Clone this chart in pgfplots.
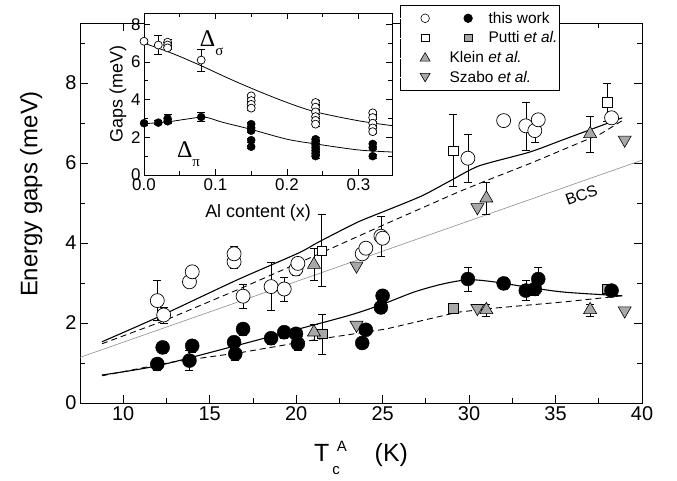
\documentclass[border=0pt]{standalone}
\usepackage{pgfplots}
\pgfplotsset{compat=1.18}
\usepackage{fontspec}
\setmainfont{Liberation Sans}
\newfontfamily\grk{Liberation Serif}
\definecolor{tri}{gray}{0.66}
\pgfplotsset{
  ebar/.style={error bars/.cd, y dir=both, y explicit,
     error bar style={line width=0.5pt,black},
     error mark options={rotate=90,mark size=4bp,line width=0.5pt,black}},
  opn/.style={only marks, mark=*, mark size=#1, mark options={draw=black,fill=white,line width=0.7pt}, ebar},
  fil/.style={only marks, mark=*, mark size=#1, mark options={draw=black,fill=black}, ebar},
}
\begin{document}
\begin{tikzpicture}
\path[use as bounding box] (-80bp,-78bp) rectangle (597bp,403bp);
\begin{axis}[
  at={(0bp,0bp)}, anchor=south west,
  scale only axis, width=562bp, height=380bp,
  xmin=7.5, xmax=40, ymin=0, ymax=9.5,
  xtick={10,15,...,40}, ytick={0,2,4,6,8},
  minor xtick={12.5,17.5,...,37.5}, minor ytick={1,3,5,7,9},
  tick align=inside, xtick pos=both, ytick pos=both,
  major tick length=8bp, minor tick length=5bp,
  every tick/.style={black,line width=0.8pt},
  axis line style={line width=1pt},
  /pgf/number format/assume math mode=true,
  tick label style={font=\fontsize{20}{20}\selectfont},
  xlabel={T\kern3bp\raisebox{-13bp}{\fontsize{15}{15}\selectfont c}\kern-3bp\raisebox{10bp}{\fontsize{15}{15}\selectfont A}\hspace{28bp}(K)},
  xlabel style={font=\fontsize{25}{25}\selectfont, at={(axis description cs:0.5,-0.145)}, anchor=center},
  ylabel={Energy gaps (meV)},
  ylabel style={font=\fontsize{24}{24}\selectfont, at={(axis description cs:-0.087,0.55)}, anchor=center},
  legend style={at={(axis description cs:0.569,1.047)}, anchor=north west, draw=black, line width=0.6pt, fill=white,
     font=\fontsize{15.5}{16}\selectfont, inner xsep=0bp, inner ysep=5bp, row sep=4bp,
     nodes={inner sep=1.5bp}},
  legend cell align=left,
]
% BCS
\addplot[forget plot, black!45, line width=0.6pt] coordinates {(7.5,1.14) (40,6.07)};
% theory curves
\addplot[forget plot, black, line width=1.1pt, smooth, tension=0.4] coordinates {(8.77,1.53) (11.97,2.14) (16.5,3.06) (20.14,3.75) (21.28,4.02) (23.55,4.52) (25.2,4.81) (27.28,5.18) (28.93,5.56) (30.59,5.93) (33.48,6.27) (35.55,6.6) (38.86,7.13)};
\addplot[forget plot, black, line width=0.9pt, dash pattern=on 6bp off 4bp] coordinates {(8.77,1.48) (12.38,2.06) (16.93,2.89) (21.07,3.68) (25.2,4.48) (29.35,5.27) (31.0,5.56) (33.48,5.98) (37.62,6.73) (38.86,7.06)};
\addplot[forget plot, black, line width=1.1pt, smooth, tension=0.5] coordinates {(8.77,0.7) (11.97,0.93) (16.5,1.43) (20.14,1.85) (23.14,2.2) (25.0,2.47) (26.86,2.78) (28.52,2.98) (29.97,3.08) (31.41,3.03) (33.48,2.89) (35.55,2.77) (38.86,2.68)};
\addplot[forget plot, black, line width=0.9pt, dash pattern=on 6bp off 4bp] coordinates {(8.77,0.68) (12.79,1.02) (16.93,1.27) (21.07,1.58) (25.2,1.85) (29.35,2.27) (31.41,2.37) (35.55,2.53) (38.86,2.68)};
% Putti open squares
\addplot[forget plot, only marks, mark=square*, mark size=4.7bp, mark options={draw=black,fill=white,line width=0.6pt}, ebar] table[x=x,y=y,y error=e] {
x y e
21.48 3.81 0.9
29.08 6.31 0.9
38.0 7.52 0.47
};
% Putti grey squares
\addplot[forget plot, only marks, mark=square*, mark size=4.7bp, mark options={draw=black,fill=tri,line width=0.6pt}, ebar] table[x=x,y=y,y error=e] {
x y e
21.52 1.73 0.5
29.08 2.37 0.1
38.0 2.85 0.1
};
% Klein
\addplot[forget plot, only marks, mark=triangle*, mark size=7.5bp, mark options={draw=black,fill=tri,line width=0.6pt}, ebar] table[x=x,y=y,y error=e] {
x y e
21.03 3.46 0.4
21.03 1.77 0.2
31.0 5.12 0.4
31.0 2.33 0.15
37.0 6.73 0.45
37.0 2.33 0.15
};
% Szabo
\addplot[forget plot, only marks, mark=triangle*, mark size=7.5bp, mark options={draw=black,fill=tri,line width=0.6pt,rotate=180}] table {
23.49 3.43
23.49 1.95
30.48 4.89
30.48 2.37
39.0 6.58
39.0 2.31
};
% sigma (this work)
\addplot[forget plot, opn=7bp] table[x=x,y=y,y error=e] {
x y e
11.97 2.56 0.5
12.34 2.2 0.2
13.83 3.03 0.1
13.99 3.28 0.1
16.41 3.53 0.15
16.41 3.73 0.2
16.93 2.67 0.3
18.55 2.91 0.6
19.31 2.85 0.3
19.99 3.35 0.15
20.1 3.49 0.15
23.82 3.73 0.1
24.03 3.87 0.15
24.9 4.17 0.5
25.0 4.12 0.1
29.93 6.12 0.6
32.0 7.06 0.1
33.28 6.93 0.6
33.8 6.81 0.3
34.0 7.08 0.1
38.24 7.13 0.1
};
% pi (this work)
\addplot[forget plot, fil=7bp] table[x=x,y=y,y error=e] {
x y e
11.97 0.975 0.15
12.28 1.39 0.15
13.83 1.06 0.25
13.99 1.43 0.15
16.41 1.52 0.15
16.48 1.23 0.15
16.93 1.85 0.15
18.55 1.62 0.15
19.31 1.77 0.15
19.99 1.73 0.15
20.1 1.48 0.15
23.82 1.5 0.1
24.03 1.83 0.1
24.9 2.39 0.15
25.0 2.68 0.15
29.93 3.1 0.3
32.0 2.99 0.15
33.28 2.81 0.25
33.8 2.85 0.15
34.0 3.1 0.3
38.24 2.81 0.1
};
\node[rotate=19.5, font=\fontsize{16}{16}\selectfont] at (axis cs:36.5,5.2) {BCS};
% legend
\addlegendimage{legend image code/.code={
  \draw[white,line width=0.1pt] (-25bp,0bp) -- (62bp,0bp);
  \draw[black,line width=0.6pt,fill=white] (0,0) circle (4.3bp);
  \fill[black] (43bp,0) circle (4.3bp);}}
\addlegendentry{this work}
\addlegendimage{legend image code/.code={
  \draw[white,line width=0.1pt] (-25bp,0bp) -- (62bp,0bp);
  \draw[black,line width=0.6pt,fill=white] (-3.7bp,-3.7bp) rectangle (3.7bp,3.7bp);
  \draw[black,line width=0.6pt,fill=tri] (39.3bp,-3.7bp) rectangle (46.7bp,3.7bp);}}
\addlegendentry{Putti \textit{et al.}}
\addlegendimage{legend image code/.code={
  \draw[white,line width=0.1pt] (-25bp,0bp) -- (62bp,0bp);
  \draw[black,line width=0.6pt,fill=tri] (-5bp,-3.5bp) -- (5bp,-3.5bp) -- (0bp,5bp) -- cycle;}}
\addlegendentry{\hspace*{-39bp}Klein \textit{et al.}}
\addlegendimage{legend image code/.code={
  \draw[white,line width=0.1pt] (-25bp,0bp) -- (62bp,0bp);
  \draw[black,line width=0.6pt,fill=tri] (-5bp,4bp) -- (5bp,4bp) -- (0bp,-4.5bp) -- cycle;}}
\addlegendentry{\hspace*{-39bp}Szabo \textit{et al.}}
\end{axis}
% inset
\begin{axis}[
  at={(64bp,228bp)}, anchor=south west,
  scale only axis, width=248bp, height=162bp,
  axis background/.style={fill=white},
  xmin=0, xmax=0.347, ymin=0, ymax=8.6,
  xtick={0,0.1,0.2,0.3}, ytick={0,2,4,6,8},
  minor xtick={0.05,0.15,0.25}, minor ytick={1,3,5,7},
  tick align=inside, xtick pos=both, ytick pos=both,
  major tick length=6bp, minor tick length=4bp,
  every tick/.style={black,line width=0.7pt},
  axis line style={line width=0.9pt},
  /pgf/number format/assume math mode=true,
  tick label style={font=\fontsize{17}{17}\selectfont},
  xticklabel style={/pgf/number format/.cd, fixed, fixed zerofill, precision=1},
  xlabel={Al content (x)},
  xlabel style={font=\fontsize{18}{18}\selectfont, at={(axis description cs:0.46,-0.235)}, anchor=center},
  ylabel={Gaps (meV)},
  ylabel style={font=\fontsize{18}{18}\selectfont, at={(axis description cs:-0.105,0.5)}, anchor=center},
]
\addplot[black, line width=0.8pt, smooth, tension=0.5] coordinates {(0,7.0) (0.04,6.45) (0.08,5.8) (0.12,5.1) (0.16,4.45) (0.2,3.85) (0.24,3.35) (0.3,2.88) (0.347,2.62)};
\addplot[black, line width=0.8pt, smooth, tension=0.5] coordinates {(0,2.72) (0.033,2.82) (0.06,2.97) (0.085,3.07) (0.11,2.8) (0.15,2.42) (0.2,1.9) (0.24,1.65) (0.3,1.33) (0.347,1.22)};
\addplot[opn=4bp] table[x=x,y=y,y error=e] {
x y e
0 7.1 0.1
0.02 6.9 0.5
0.033 7.05 0.15
0.033 6.9 0.1
0.033 6.75 0.1
0.08 6.1 0.6
0.15 4.2 0.1
0.15 3.95 0.1
0.15 3.75 0.1
0.15 3.55 0.1
0.24 3.85 0.1
0.24 3.6 0.1
0.24 3.35 0.1
0.24 3.1 0.1
0.24 2.9 0.1
0.24 2.7 0.1
0.32 3.3 0.1
0.32 3.05 0.1
0.32 2.75 0.1
0.32 2.5 0.1
0.32 2.3 0.1
};
\addplot[fil=4bp] table[x=x,y=y,y error=e] {
x y e
0 2.75 0.1
0.02 2.78 0.1
0.033 2.85 0.1
0.033 3.0 0.2
0.08 3.08 0.25
0.15 2.7 0.1
0.15 2.5 0.1
0.15 2.35 0.1
0.15 1.85 0.1
0.15 1.5 0.1
0.24 1.9 0.1
0.24 1.75 0.1
0.24 1.6 0.1
0.24 1.45 0.1
0.24 1.3 0.1
0.24 1.15 0.1
0.24 1.0 0.1
0.32 1.65 0.1
0.32 1.45 0.1
0.32 1.0 0.1
};
\node[anchor=base west, inner sep=0pt, font=\fontsize{24}{24}\selectfont\grk] at (axis cs:0.078,6.8) {Δ\raisebox{-9bp}{\fontsize{15}{15}\selectfont σ}};
\node[anchor=base west, inner sep=0pt, font=\fontsize{24}{24}\selectfont\grk] at (axis cs:0.046,0.95) {Δ\raisebox{-9bp}{\fontsize{15}{15}\selectfont π}};
\end{axis}
\end{tikzpicture}
\end{document}
